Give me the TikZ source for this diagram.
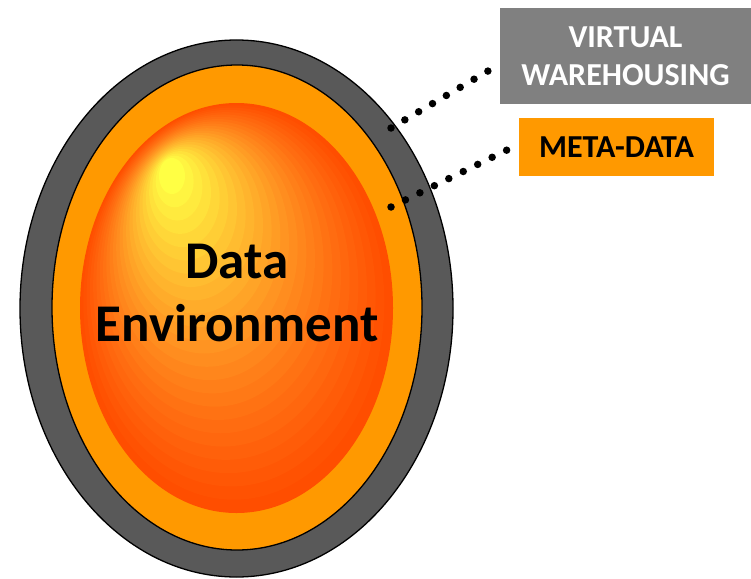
\documentclass[tikz,border=0pt]{standalone}
\usepackage{fontspec}
\setmainfont{Carlito}
\usetikzlibrary{shapes.geometric}
\definecolor{ringgray}{HTML}{595959}
\definecolor{ringorange}{HTML}{FF9900}
\definecolor{boxgray}{HTML}{808080}
\begin{document}
\begin{tikzpicture}[x=1pt,y=-1pt,
  ring/.style={ellipse, draw=black, line width=1.3pt, inner sep=0pt},
  boxlbl/.style={inner sep=0pt, font=\bfseries\fontsize{32}{38}\selectfont, align=center},
  dotline/.style={draw=black, line width=7.5pt, line cap=round}]
\useasboundingbox (0,0) rectangle (751,578);
\node[ring, fill=ringgray, minimum width=433pt, minimum height=537pt] (outer) at (236.5,308.5) {};
\node[ring, fill=ringorange, minimum width=370pt, minimum height=485pt] (middle) at (237,307.5) {};
\foreach \i in {0,...,24}{
  \pgfmathsetmacro\t{\i/24}
  \pgfmathsetmacro\cx{236.5-64.5*\t}
  \pgfmathsetmacro\cy{308-132*\t}
  \pgfmathsetmacro\rx{156.5-143.5*\t}
  \pgfmathsetmacro\ry{205-187*\t}
  \pgfmathtruncatemacro\g{78+177*(0.6*\t+0.4*\t*\t)}
  \pgfmathtruncatemacro\b{68*\t}
  \definecolor{bandc}{RGB}{255,\g,\b}
  \fill[bandc] (\cx,\cy) ellipse [x radius=\rx pt, y radius=\ry pt];
}
\node[inner sep=0pt, font=\bfseries\fontsize{53}{63}\selectfont, align=center] (core) at (237,293) {Data\\Environment};
\node[boxlbl, fill=boxgray, text=white, minimum width=251pt, minimum height=96pt] (vw) at (625.5,56) {VIRTUAL\\WAREHOUSING};
\node[boxlbl, fill=ringorange, text=black, minimum width=195pt, minimum height=58pt] (meta) at (616.5,147) {META-DATA};
\coordinate (d1s) at (391,128);
\coordinate (d1e) at (488,71);
\coordinate (d2s) at (391,207);
\coordinate (d2e) at (507,150);
\draw[dotline, dash pattern=on 0pt off 16.05pt] (d1s) -- (d1e);
\draw[dotline, dash pattern=on 0pt off 16.1pt] (d2s) -- (d2e);
\end{tikzpicture}
\end{document}
